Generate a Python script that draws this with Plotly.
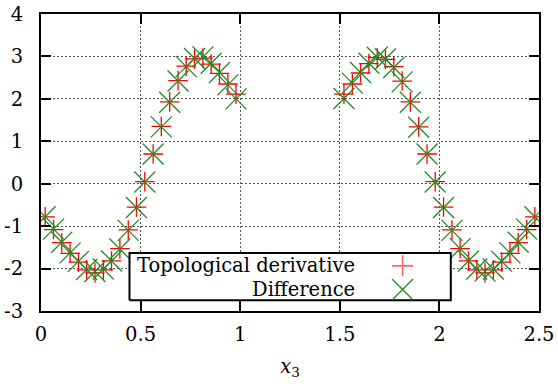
import plotly.graph_objects as go

# ---- data ----
x3_seg1 = [0.021, 0.063, 0.104, 0.146, 0.188, 0.229, 0.271, 0.313, 0.354, 0.396, 0.438, 0.479,
           0.521, 0.563, 0.604, 0.646, 0.688, 0.729, 0.771, 0.813, 0.854, 0.896, 0.938, 0.979]
x3_seg2 = [1.521, 1.563, 1.604, 1.646, 1.688, 1.729, 1.771, 1.813, 1.854, 1.896, 1.938, 1.979,
           2.021, 2.063, 2.104, 2.146, 2.188, 2.229, 2.271, 2.313, 2.354, 2.396, 2.438, 2.479]

topo_seg1 = [-0.78, -1.08, -1.39, -1.64, -1.85, -2.03, -2.10, -2.03, -1.82, -1.53, -1.09, -0.55,
             0.05, 0.70, 1.35, 1.93, 2.43, 2.77, 2.94, 2.96, 2.82, 2.60, 2.35, 2.11]
topo_seg2 = [2.11, 2.35, 2.61, 2.83, 2.97, 2.93, 2.76, 2.42, 1.93, 1.34, 0.70, 0.05,
             -0.55, -1.09, -1.53, -1.82, -2.03, -2.10, -2.03, -1.85, -1.64, -1.39, -1.08, -0.78]

diff_seg1 = [-0.78, -1.07, -1.38, -1.63, -1.83, -2.02, -2.07, -2.01, -1.82, -1.54, -1.10, -0.56,
             0.04, 0.70, 1.34, 1.92, 2.42, 2.76, 2.95, 2.99, 2.84, 2.62, 2.33, 2.00]
diff_seg2 = [2.01, 2.37, 2.62, 2.84, 2.98, 2.94, 2.74, 2.40, 1.92, 1.33, 0.70, 0.04,
             -0.56, -1.10, -1.53, -1.82, -2.01, -2.06, -2.01, -1.83, -1.63, -1.38, -1.07, -0.78]

x3 = x3_seg1 + x3_seg2
topo = topo_seg1 + topo_seg2
diff = diff_seg1 + diff_seg2

x_ticks = [0, 0.5, 1, 1.5, 2, 2.5]
x_tick_labels = ["0", "0.5", "1", "1.5", "2", "2.5"]
y_ticks = [-3, -2, -1, 0, 1, 2, 3, 4]
y_tick_labels = ["-3", "-2", "-1", "0", "1", "2", "3", "4"]

series_names = ["Topological derivative", "Difference"]
RED = "#ff0000"
GREEN = "#228b22"
FONT = "DejaVu Serif"
FS = 19.5

fig = go.Figure()
fig.add_trace(go.Scatter(
    x=x3, y=topo, mode="markers", name=series_names[0], showlegend=False,
    marker=dict(symbol="cross-thin-open", size=14, color=RED, line=dict(color=RED, width=1.3)),
))
fig.add_trace(go.Scatter(
    x=x3, y=diff, mode="markers", name=series_names[1], showlegend=False,
    marker=dict(symbol="x-thin-open", size=21, color=GREEN, line=dict(color=GREEN, width=1.3)),
))

# ---- gnuplot-style key (text left, sample right) drawn on an overlay frame ----
key_box_x = [0.1777, 0.8229, 0.8229, 0.1777, 0.1777]
key_box_y = [0.036, 0.036, 0.1955, 0.1955, 0.036]
fig.add_trace(go.Scatter(
    x=key_box_x, y=key_box_y, xaxis="x2", yaxis="y2", mode="lines", fill="toself",
    fillcolor="white", line=dict(color="black", width=2), hoverinfo="skip", showlegend=False,
))
key_sample_x = 0.726
key_rows_y = [0.152, 0.0725]
fig.add_trace(go.Scatter(
    x=[key_sample_x], y=[key_rows_y[0]], xaxis="x2", yaxis="y2", mode="markers", showlegend=False,
    marker=dict(symbol="cross-thin-open", size=15, color="rgba(255,0,0,0.6)",
                line=dict(color="rgba(255,0,0,0.6)", width=1.6)),
))
fig.add_trace(go.Scatter(
    x=[key_sample_x], y=[key_rows_y[1]], xaxis="x2", yaxis="y2", mode="markers", showlegend=False,
    marker=dict(symbol="x-thin-open", size=21, color=GREEN, line=dict(color=GREEN, width=1.3)),
))
for name, yy in zip(series_names, key_rows_y):
    fig.add_annotation(
        x=0.634, y=yy, xref="paper", yref="paper", text=name, showarrow=False,
        xanchor="right", yanchor="middle", font=dict(family=FONT, size=FS, color="black"),
    )

axis_common = dict(
    showline=True, linecolor="black", linewidth=2, mirror="allticks",
    ticks="inside", ticklen=10, tickwidth=2, tickcolor="black",
    showgrid=True, gridcolor="#555555", gridwidth=1, griddash="2px,2px",
    zeroline=False, automargin=False,
    tickfont=dict(family=FONT, size=FS, color="black"),
)

fig.update_layout(
    width=558, height=387,
    margin=dict(l=41, r=19, t=14, b=76),
    paper_bgcolor="white", plot_bgcolor="white",
    xaxis=dict(
        range=[0, 2.5], tickmode="array", tickvals=x_ticks, ticktext=x_tick_labels,
        ticklabelstandoff=5,
        title=dict(text="<i>x</i><sub>3</sub>", font=dict(family=FONT, size=FS, color="black"), standoff=14),
        **axis_common,
    ),
    yaxis=dict(
        range=[-3, 4], tickmode="array", tickvals=y_ticks, ticktext=y_tick_labels,
        ticklabelstandoff=12,
        **axis_common,
    ),
    xaxis2=dict(overlaying="x", range=[0, 1], visible=False, fixedrange=True),
    yaxis2=dict(overlaying="y", range=[0, 1], visible=False, fixedrange=True),
    showlegend=False,
)

fig.write_html("out.html")
